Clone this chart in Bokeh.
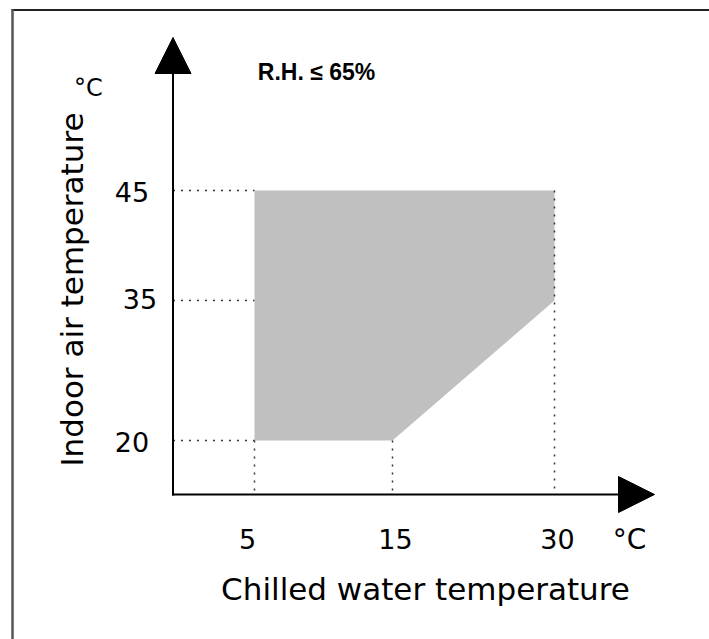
import numpy as np
from bokeh.plotting import figure
from bokeh.models import Range1d, Arrow, NormalHead, ColumnDataSource
from bokeh.core.properties import value
from bokeh.embed import file_html
from bokeh.resources import INLINE

# ---- data ----
x_ticks = [5, 15, 30]            # chilled water temperature (°C)
y_ticks = [20, 35, 45]           # indoor air temperature (°C)
x_tick_labels = ["5", "15", "30"]
y_tick_labels = ["20", "35", "45"]
region_x = [5, 30, 30, 15, 5]    # operating envelope
region_y = [45, 45, 35, 20, 20]
title_text = "R.H. \u2264 65%"
x_title = "Chilled water temperature"
y_title = "Indoor air temperature"
unit = "\u00b0C"

# ---- layout (schematic, non-linear axes) ----
W, H = 709, 639
X_ANCHOR = [254, 392, 554]       # screen x of x ticks
Y_ANCHOR = [199, 339, 449]       # plot y of y ticks (639 - page y)
AX0, AY0 = 172.5, 145            # axis origin


def sx(v):
    return np.interp(v, x_ticks, X_ANCHOR)


def sy(v):
    return np.interp(v, y_ticks, Y_ANCHOR)


p = figure(width=W, height=H, x_range=Range1d(0, W), y_range=Range1d(0, H),
           output_backend="svg", toolbar_location=None, x_axis_type=None, y_axis_type=None,
           min_border=0, min_border_left=0, min_border_right=0, min_border_top=0, min_border_bottom=0)
p.grid.visible = False
p.outline_line_color = None
p.background_fill_color = "white"
p.border_fill_color = "white"

# frame lines (top and left)
p.segment(x0=[11], y0=[629.5], x1=[W], y1=[629.5], line_color="#222222", line_width=2)
p.segment(x0=[12], y0=[0], x1=[12], y1=[630.5], line_color="#555555", line_width=2.5)

# region
p.patch(sx(region_x), sy(region_y), fill_color="#c0c0c0", line_color=None)

# dotted guides
xmin = sx(min(x_ticks))
hg = ColumnDataSource(dict(x0=[AX0] * len(y_ticks), x1=[xmin] * len(y_ticks),
                           y=list(sy(y_ticks))))
p.segment(x0="x0", y0="y", x1="x1", y1="y", source=hg, line_color="#333333",
          line_width=1.5, line_dash="2 6")
guide_top = [min(y_ticks), min(y_ticks), max(y_ticks)]
vg = ColumnDataSource(dict(x=list(sx(x_ticks)), y0=list(sy(guide_top)), y1=[AY0] * len(x_ticks)))
p.segment(x0="x", y0="y0", x1="x", y1="y1", source=vg, line_color="#333333",
          line_width=1.5, line_dash="2 6")

# axes with arrow heads
p.add_layout(Arrow(end=NormalHead(size=36, fill_color="black", line_color="black"),
                   x_start=AX0, y_start=AY0 - 1, x_end=AX0, y_end=602,
                   line_color="black", line_width=2))
p.add_layout(Arrow(end=NormalHead(size=36, fill_color="black", line_color="black"),
                   x_start=AX0 - 1, y_start=AY0, x_end=654, y_end=AY0,
                   line_color="black", line_width=2))

font = value("DejaVu Sans")

# x tick labels
xdx = [-7, 3, 3]
p.text(x=list(sx(x_ticks) + np.array(xdx)), y=[101] * 3, text=x_tick_labels,
       text_font=font, text_font_size="27px", text_align="center",
       text_baseline="middle", text_color="black")
# y tick labels
ydx = [-41, -33, -41]
p.text(x=list(AX0 + np.array(ydx)), y=list(sy(y_ticks) - np.array([1, -2, 1])), text=y_tick_labels,
       text_font=font, text_font_size="27px", text_align="center",
       text_baseline="middle", text_color="black")

# units
p.text(x=[629], y=[100], text=[unit], text_font=font, text_font_size="28px",
       text_align="center", text_baseline="middle", text_color="black")
p.text(x=[88], y=[552], text=[unit], text_font=font, text_font_size="24px",
       text_align="center", text_baseline="middle", text_color="black")

# axis titles
p.text(x=[425], y=[51], text=[x_title], text_font=font, text_font_size="31px",
       text_align="center", text_baseline="middle", text_color="black")
p.text(x=[71], y=[350], text=[y_title], text_font=font, text_font_size="31px",
       text_align="center", text_baseline="middle", angle=np.pi / 2, text_color="black")

# title
p.text(x=[316], y=[568], text=[title_text], text_font=value("Liberation Sans"),
       text_font_size="23px", text_font_style="bold", text_align="center",
       text_baseline="middle", text_color="black")

open("out.html", "w").write(file_html(p, INLINE))
